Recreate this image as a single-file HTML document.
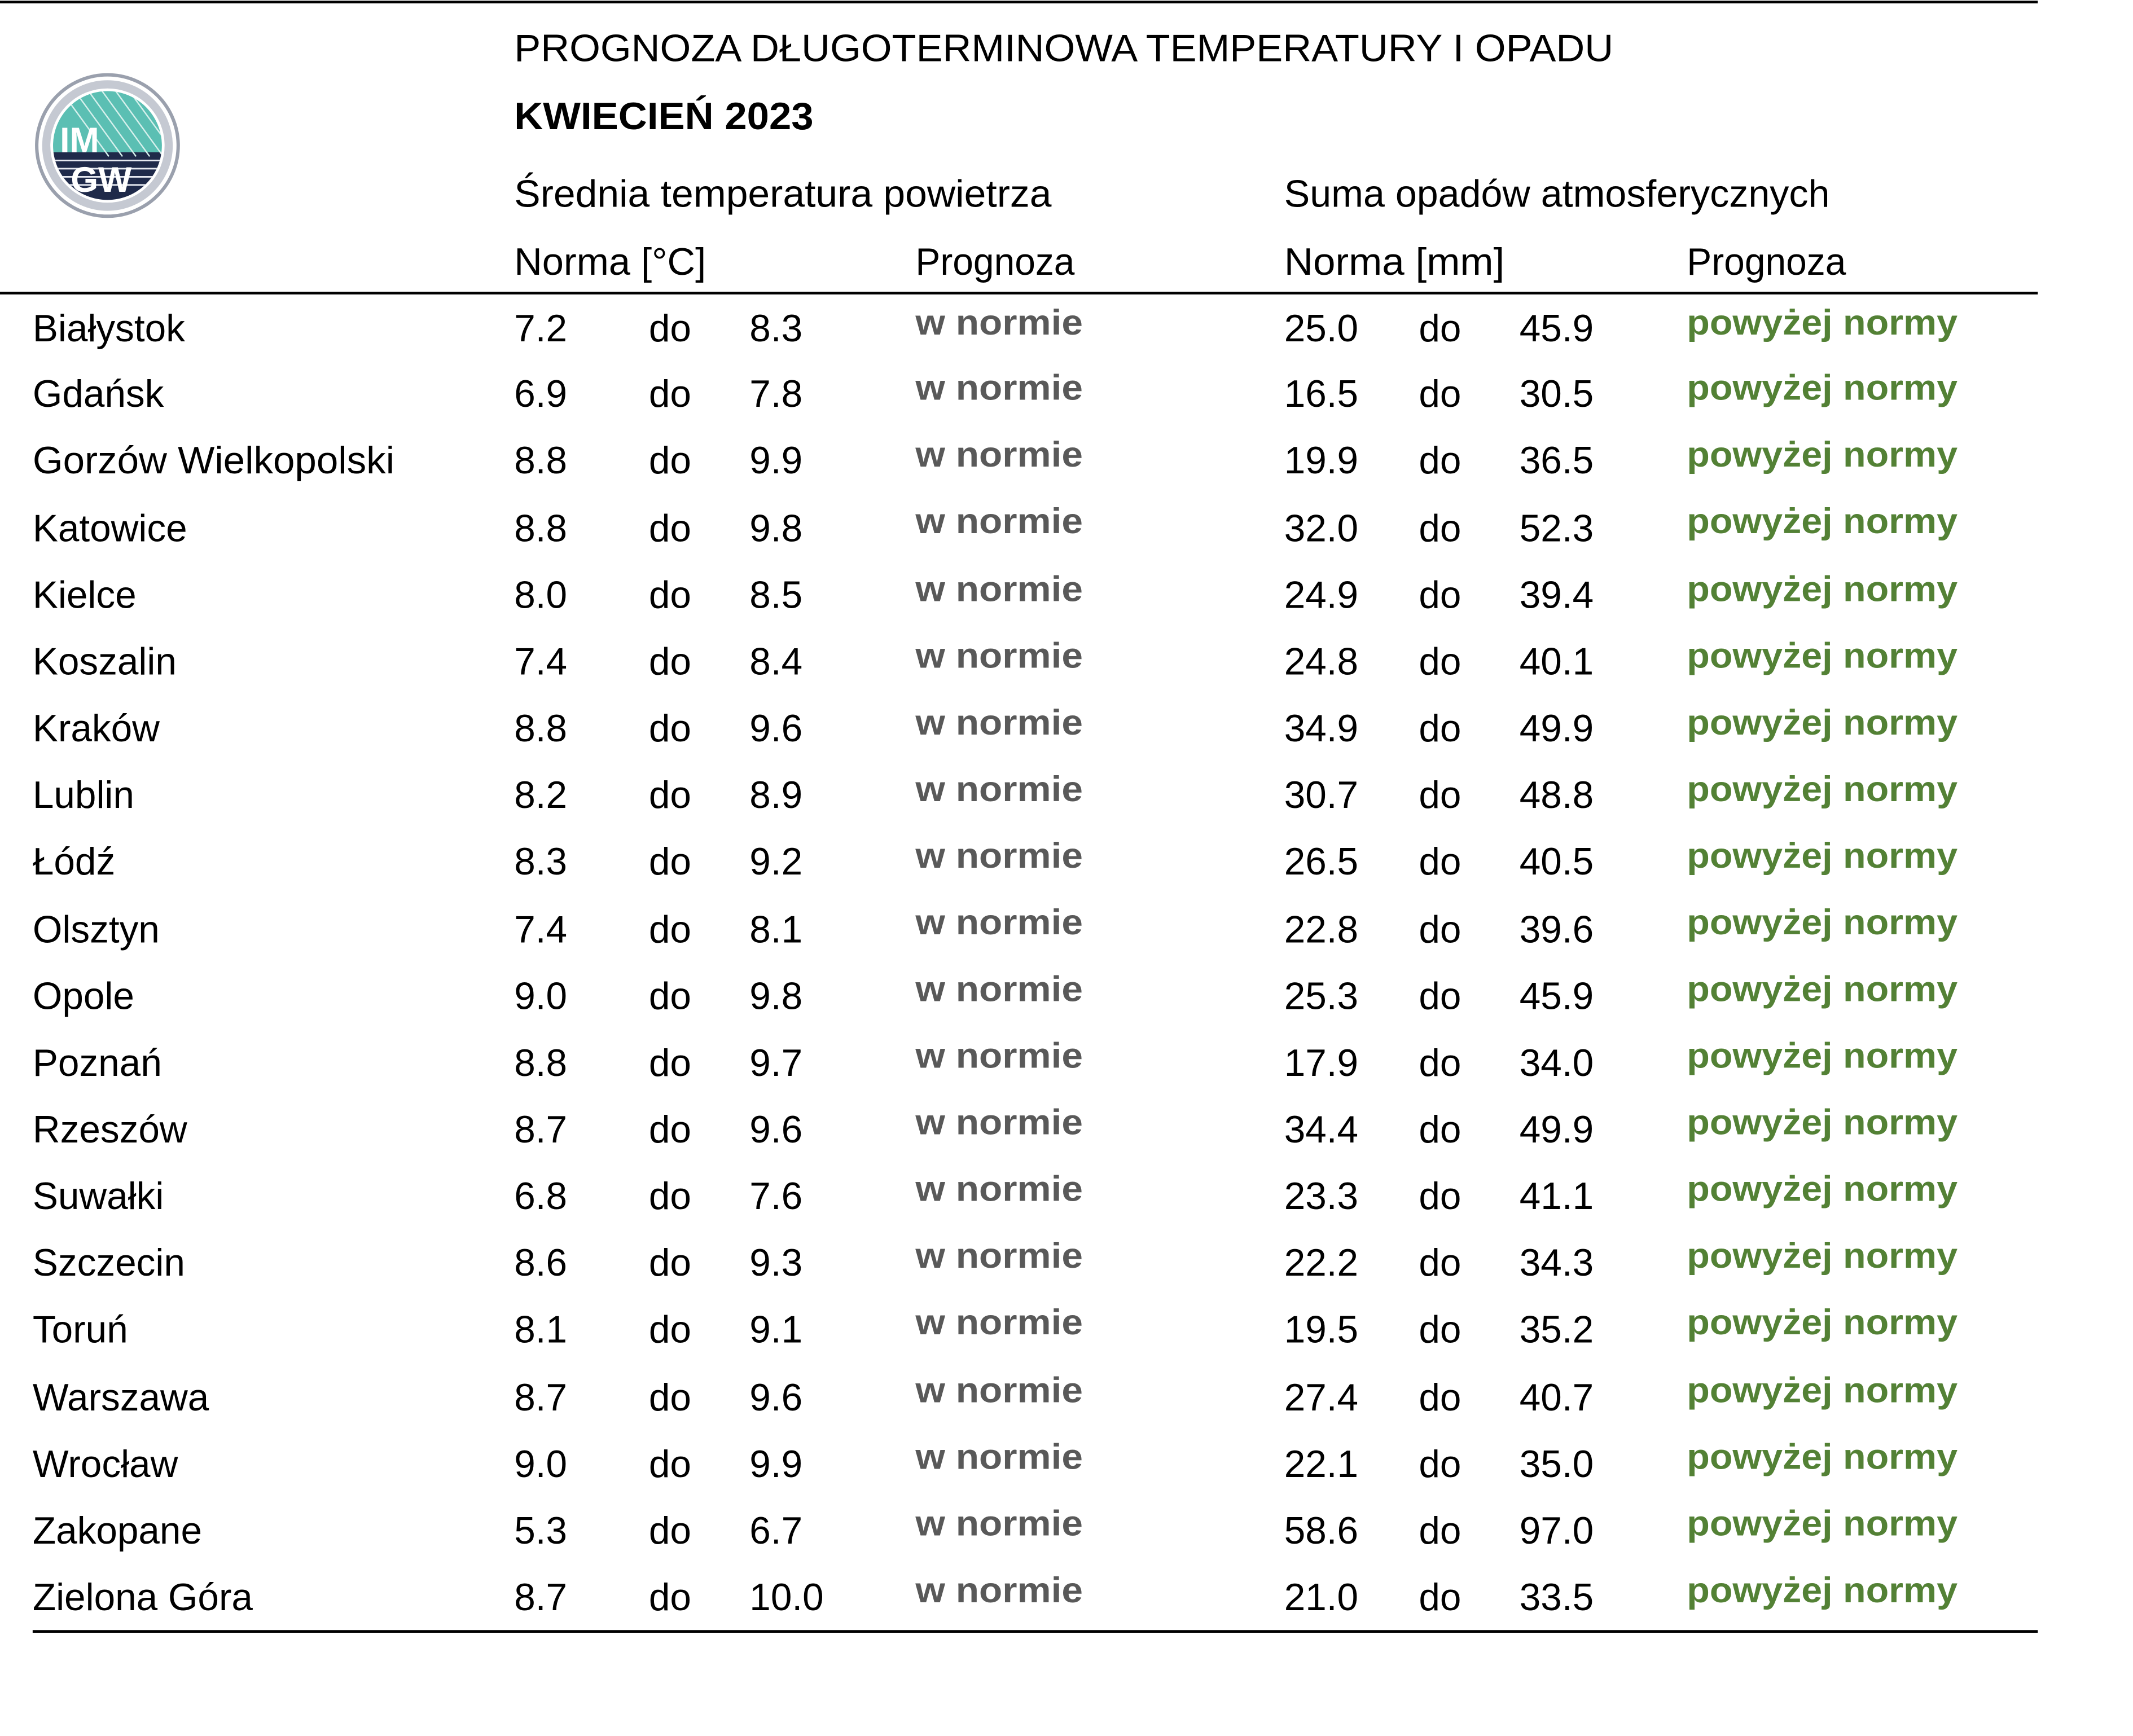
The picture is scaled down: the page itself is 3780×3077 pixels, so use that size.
<!DOCTYPE html>
<html><head><meta charset="utf-8"><style>
html,body{margin:0;padding:0;background:#fff;}
svg{display:block;}
text{font-family:"Liberation Sans",sans-serif;}
</style></head><body>
<svg width="3780" height="3077" viewBox="0 0 1568 1276.4" preserveAspectRatio="none" xmlns="http://www.w3.org/2000/svg">
<rect width="1568" height="1277" fill="#fff"/>
<line x1="0" y1="1.5" x2="1498" y2="1.5" stroke="#000" stroke-width="2"/>
<line x1="0" y1="215.5" x2="1498" y2="215.5" stroke="#000" stroke-width="2"/>
<line x1="24" y1="1199.5" x2="1498" y2="1199.5" stroke="#000" stroke-width="2"/>
<defs><clipPath id="c"><circle cx="79" cy="107" r="40"/></clipPath></defs>
<circle cx="79" cy="107" r="52" fill="#fff" stroke="#9aa0ad" stroke-width="2.5"/>
<circle cx="79" cy="107" r="45" fill="none" stroke="#c5c9d2" stroke-width="6"/>
<g clip-path="url(#c)">
<rect x="30" y="60" width="100" height="52" fill="#5bbfb3"/>
<rect x="30" y="112" width="100" height="40" fill="#1f2a4a"/>
<g stroke="#d6f0ec" stroke-width="1">
<line x1="50" y1="60" x2="90" y2="115"/><line x1="60" y1="60" x2="100" y2="115"/><line x1="70" y1="60" x2="110" y2="115"/><line x1="80" y1="60" x2="120" y2="115"/><line x1="90" y1="60" x2="130" y2="115"/><line x1="40" y1="60" x2="80" y2="115"/>
</g>
<g stroke="#e6e9f0" stroke-width="1.2">
<line x1="30" y1="118" x2="130" y2="118"/><line x1="30" y1="124" x2="130" y2="124"/><line x1="30" y1="130" x2="130" y2="130"/><line x1="30" y1="136" x2="130" y2="136"/>
</g>
</g>
<text x="44" y="112" font-size="26" font-weight="bold" fill="#fff">IM</text>
<text x="52" y="141" font-size="26" font-weight="bold" fill="#fff">GW</text>
<text x="378" y="45" font-size="28" textLength="808" lengthAdjust="spacingAndGlyphs">PROGNOZA DŁUGOTERMINOWA TEMPERATURY I OPADU</text>
<text x="378" y="95" font-size="28" font-weight="bold" textLength="220" lengthAdjust="spacingAndGlyphs">KWIECIEŃ 2023</text>
<text x="378" y="152" font-size="28" textLength="395" lengthAdjust="spacingAndGlyphs">Średnia temperatura powietrza</text>
<text x="944" y="152" font-size="28" textLength="401" lengthAdjust="spacingAndGlyphs">Suma opadów atmosferycznych</text>
<text x="378" y="202" font-size="28" textLength="141" lengthAdjust="spacingAndGlyphs">Norma [°C]</text>
<text x="673" y="202" font-size="28" textLength="117" lengthAdjust="spacingAndGlyphs">Prognoza</text>
<text x="944" y="202" font-size="28" textLength="162" lengthAdjust="spacingAndGlyphs">Norma [mm]</text>
<text x="1240" y="202" font-size="28" textLength="117" lengthAdjust="spacingAndGlyphs">Prognoza</text>
<g font-size="28">
<text x="24" y="251">Białystok</text><text x="378" y="251">7.2</text><text x="477" y="251">do</text><text x="551" y="251">8.3</text><text x="944" y="251">25.0</text><text x="1043" y="251">do</text><text x="1117" y="251">45.9</text>
<text x="24" y="299">Gdańsk</text><text x="378" y="299">6.9</text><text x="477" y="299">do</text><text x="551" y="299">7.8</text><text x="944" y="299">16.5</text><text x="1043" y="299">do</text><text x="1117" y="299">30.5</text>
<text x="24" y="348" textLength="266" lengthAdjust="spacingAndGlyphs">Gorzów Wielkopolski</text><text x="378" y="348">8.8</text><text x="477" y="348">do</text><text x="551" y="348">9.9</text><text x="944" y="348">19.9</text><text x="1043" y="348">do</text><text x="1117" y="348">36.5</text>
<text x="24" y="398">Katowice</text><text x="378" y="398">8.8</text><text x="477" y="398">do</text><text x="551" y="398">9.8</text><text x="944" y="398">32.0</text><text x="1043" y="398">do</text><text x="1117" y="398">52.3</text>
<text x="24" y="447">Kielce</text><text x="378" y="447">8.0</text><text x="477" y="447">do</text><text x="551" y="447">8.5</text><text x="944" y="447">24.9</text><text x="1043" y="447">do</text><text x="1117" y="447">39.4</text>
<text x="24" y="496">Koszalin</text><text x="378" y="496">7.4</text><text x="477" y="496">do</text><text x="551" y="496">8.4</text><text x="944" y="496">24.8</text><text x="1043" y="496">do</text><text x="1117" y="496">40.1</text>
<text x="24" y="545">Kraków</text><text x="378" y="545">8.8</text><text x="477" y="545">do</text><text x="551" y="545">9.6</text><text x="944" y="545">34.9</text><text x="1043" y="545">do</text><text x="1117" y="545">49.9</text>
<text x="24" y="594">Lublin</text><text x="378" y="594">8.2</text><text x="477" y="594">do</text><text x="551" y="594">8.9</text><text x="944" y="594">30.7</text><text x="1043" y="594">do</text><text x="1117" y="594">48.8</text>
<text x="24" y="643">Łódź</text><text x="378" y="643">8.3</text><text x="477" y="643">do</text><text x="551" y="643">9.2</text><text x="944" y="643">26.5</text><text x="1043" y="643">do</text><text x="1117" y="643">40.5</text>
<text x="24" y="693">Olsztyn</text><text x="378" y="693">7.4</text><text x="477" y="693">do</text><text x="551" y="693">8.1</text><text x="944" y="693">22.8</text><text x="1043" y="693">do</text><text x="1117" y="693">39.6</text>
<text x="24" y="742">Opole</text><text x="378" y="742">9.0</text><text x="477" y="742">do</text><text x="551" y="742">9.8</text><text x="944" y="742">25.3</text><text x="1043" y="742">do</text><text x="1117" y="742">45.9</text>
<text x="24" y="791">Poznań</text><text x="378" y="791">8.8</text><text x="477" y="791">do</text><text x="551" y="791">9.7</text><text x="944" y="791">17.9</text><text x="1043" y="791">do</text><text x="1117" y="791">34.0</text>
<text x="24" y="840">Rzeszów</text><text x="378" y="840">8.7</text><text x="477" y="840">do</text><text x="551" y="840">9.6</text><text x="944" y="840">34.4</text><text x="1043" y="840">do</text><text x="1117" y="840">49.9</text>
<text x="24" y="889">Suwałki</text><text x="378" y="889">6.8</text><text x="477" y="889">do</text><text x="551" y="889">7.6</text><text x="944" y="889">23.3</text><text x="1043" y="889">do</text><text x="1117" y="889">41.1</text>
<text x="24" y="938">Szczecin</text><text x="378" y="938">8.6</text><text x="477" y="938">do</text><text x="551" y="938">9.3</text><text x="944" y="938">22.2</text><text x="1043" y="938">do</text><text x="1117" y="938">34.3</text>
<text x="24" y="987">Toruń</text><text x="378" y="987">8.1</text><text x="477" y="987">do</text><text x="551" y="987">9.1</text><text x="944" y="987">19.5</text><text x="1043" y="987">do</text><text x="1117" y="987">35.2</text>
<text x="24" y="1037">Warszawa</text><text x="378" y="1037">8.7</text><text x="477" y="1037">do</text><text x="551" y="1037">9.6</text><text x="944" y="1037">27.4</text><text x="1043" y="1037">do</text><text x="1117" y="1037">40.7</text>
<text x="24" y="1086">Wrocław</text><text x="378" y="1086">9.0</text><text x="477" y="1086">do</text><text x="551" y="1086">9.9</text><text x="944" y="1086">22.1</text><text x="1043" y="1086">do</text><text x="1117" y="1086">35.0</text>
<text x="24" y="1135">Zakopane</text><text x="378" y="1135">5.3</text><text x="477" y="1135">do</text><text x="551" y="1135">6.7</text><text x="944" y="1135">58.6</text><text x="1043" y="1135">do</text><text x="1117" y="1135">97.0</text>
<text x="24" y="1184">Zielona Góra</text><text x="378" y="1184">8.7</text><text x="477" y="1184">do</text><text x="551" y="1184">10.0</text><text x="944" y="1184">21.0</text><text x="1043" y="1184">do</text><text x="1117" y="1184">33.5</text>
</g>
<g font-size="26" font-weight="bold" fill="#595959">
<text x="673" y="246" textLength="123" lengthAdjust="spacingAndGlyphs">w normie</text>
<text x="673" y="294" textLength="123" lengthAdjust="spacingAndGlyphs">w normie</text>
<text x="673" y="343" textLength="123" lengthAdjust="spacingAndGlyphs">w normie</text>
<text x="673" y="392" textLength="123" lengthAdjust="spacingAndGlyphs">w normie</text>
<text x="673" y="442" textLength="123" lengthAdjust="spacingAndGlyphs">w normie</text>
<text x="673" y="491" textLength="123" lengthAdjust="spacingAndGlyphs">w normie</text>
<text x="673" y="540" textLength="123" lengthAdjust="spacingAndGlyphs">w normie</text>
<text x="673" y="589" textLength="123" lengthAdjust="spacingAndGlyphs">w normie</text>
<text x="673" y="638" textLength="123" lengthAdjust="spacingAndGlyphs">w normie</text>
<text x="673" y="687" textLength="123" lengthAdjust="spacingAndGlyphs">w normie</text>
<text x="673" y="736" textLength="123" lengthAdjust="spacingAndGlyphs">w normie</text>
<text x="673" y="785" textLength="123" lengthAdjust="spacingAndGlyphs">w normie</text>
<text x="673" y="834" textLength="123" lengthAdjust="spacingAndGlyphs">w normie</text>
<text x="673" y="883" textLength="123" lengthAdjust="spacingAndGlyphs">w normie</text>
<text x="673" y="932" textLength="123" lengthAdjust="spacingAndGlyphs">w normie</text>
<text x="673" y="981" textLength="123" lengthAdjust="spacingAndGlyphs">w normie</text>
<text x="673" y="1031" textLength="123" lengthAdjust="spacingAndGlyphs">w normie</text>
<text x="673" y="1080" textLength="123" lengthAdjust="spacingAndGlyphs">w normie</text>
<text x="673" y="1129" textLength="123" lengthAdjust="spacingAndGlyphs">w normie</text>
<text x="673" y="1178" textLength="123" lengthAdjust="spacingAndGlyphs">w normie</text>
</g>
<g font-size="26" font-weight="bold" fill="#538135">
<text x="1240" y="246" textLength="199" lengthAdjust="spacingAndGlyphs">powyżej normy</text>
<text x="1240" y="294" textLength="199" lengthAdjust="spacingAndGlyphs">powyżej normy</text>
<text x="1240" y="343" textLength="199" lengthAdjust="spacingAndGlyphs">powyżej normy</text>
<text x="1240" y="392" textLength="199" lengthAdjust="spacingAndGlyphs">powyżej normy</text>
<text x="1240" y="442" textLength="199" lengthAdjust="spacingAndGlyphs">powyżej normy</text>
<text x="1240" y="491" textLength="199" lengthAdjust="spacingAndGlyphs">powyżej normy</text>
<text x="1240" y="540" textLength="199" lengthAdjust="spacingAndGlyphs">powyżej normy</text>
<text x="1240" y="589" textLength="199" lengthAdjust="spacingAndGlyphs">powyżej normy</text>
<text x="1240" y="638" textLength="199" lengthAdjust="spacingAndGlyphs">powyżej normy</text>
<text x="1240" y="687" textLength="199" lengthAdjust="spacingAndGlyphs">powyżej normy</text>
<text x="1240" y="736" textLength="199" lengthAdjust="spacingAndGlyphs">powyżej normy</text>
<text x="1240" y="785" textLength="199" lengthAdjust="spacingAndGlyphs">powyżej normy</text>
<text x="1240" y="834" textLength="199" lengthAdjust="spacingAndGlyphs">powyżej normy</text>
<text x="1240" y="883" textLength="199" lengthAdjust="spacingAndGlyphs">powyżej normy</text>
<text x="1240" y="932" textLength="199" lengthAdjust="spacingAndGlyphs">powyżej normy</text>
<text x="1240" y="981" textLength="199" lengthAdjust="spacingAndGlyphs">powyżej normy</text>
<text x="1240" y="1031" textLength="199" lengthAdjust="spacingAndGlyphs">powyżej normy</text>
<text x="1240" y="1080" textLength="199" lengthAdjust="spacingAndGlyphs">powyżej normy</text>
<text x="1240" y="1129" textLength="199" lengthAdjust="spacingAndGlyphs">powyżej normy</text>
<text x="1240" y="1178" textLength="199" lengthAdjust="spacingAndGlyphs">powyżej normy</text>
</g>
</svg>
</body></html>
